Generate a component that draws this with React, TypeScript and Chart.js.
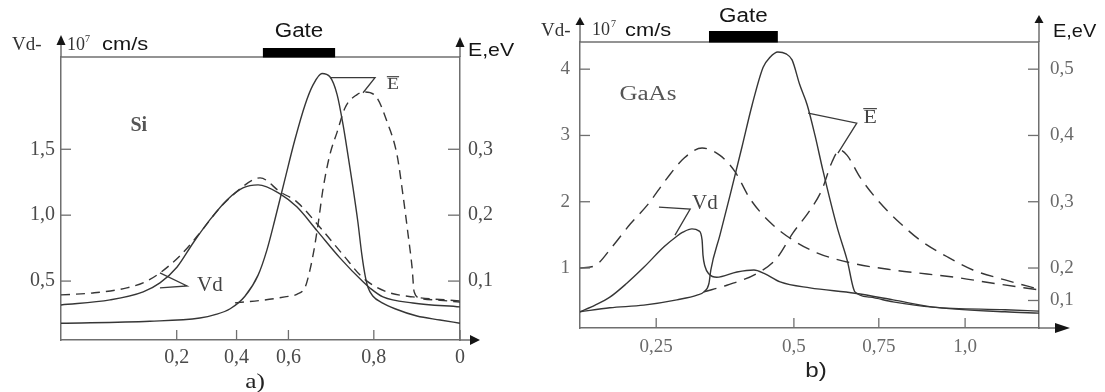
import React, { useEffect, useRef } from "react";
import { Chart, registerables } from "chart.js";

Chart.register(...registerables);

// ================= Panel a) Si =================
// x positions are given in the axis' own (normalised) coordinate, ticks carry the printed labels
const SI_X_TICKS = [0.29, 0.44, 0.57, 0.784, 1.0];
const SI_X_LABELS = ["0,2", "0,4", "0,6", "0,8", "0"];
const SI_VD_TICKS = [0.5, 1.0, 1.5];
const SI_VD_LABELS = ["0,5", "1,0", "1,5"];
const SI_E_TICKS = [0.1, 0.2, 0.3];
const SI_E_LABELS = ["0,1", "0,2", "0,3"];

// Vd, 10^7 cm/s (solid)
const SI_VD_SOLID_X = [0, 0.123, 0.206, 0.248, 0.291, 0.331, 0.373, 0.416, 0.456, 0.494, 0.549, 0.591, 0.642, 0.699, 0.757, 0.774, 0.807, 0.882, 1.0];
const SI_VD_SOLID_Y = [0.319, 0.357, 0.418, 0.486, 0.607, 0.789, 0.964, 1.116, 1.207, 1.23, 1.162, 1.063, 0.881, 0.676, 0.494, 0.448, 0.38, 0.334, 0.304];
// Vd (dashed)
const SI_VD_DASH_X = [0, 0.08, 0.165, 0.211, 0.248, 0.298, 0.348, 0.398, 0.449, 0.481, 0.499, 0.549, 0.591, 0.644, 0.707, 0.757, 0.817, 0.882, 1.0];
const SI_VD_DASH_Y = [0.395, 0.41, 0.448, 0.494, 0.562, 0.691, 0.865, 1.055, 1.2, 1.268, 1.283, 1.177, 1.101, 0.926, 0.699, 0.524, 0.418, 0.38, 0.349];
// E, eV (solid)
const SI_E_SOLID_X = [0, 0.223, 0.348, 0.386, 0.424, 0.461, 0.494, 0.516, 0.536, 0.561, 0.586, 0.612, 0.632, 0.654, 0.674, 0.692, 0.707, 0.719, 0.732, 0.744, 0.754, 0.762, 0.769, 0.782, 0.805, 0.837, 0.892, 0.95, 1.0];
const SI_E_SOLID_Y = [0.036, 0.039, 0.044, 0.049, 0.058, 0.077, 0.109, 0.147, 0.193, 0.254, 0.314, 0.368, 0.398, 0.415, 0.41, 0.383, 0.337, 0.292, 0.241, 0.19, 0.14, 0.109, 0.091, 0.077, 0.067, 0.058, 0.047, 0.041, 0.036];
// E, eV (dashed)
const SI_E_DASH_X = [0.436, 0.506, 0.561, 0.591, 0.612, 0.624, 0.634, 0.644, 0.657, 0.674, 0.692, 0.712, 0.742, 0.762, 0.792, 0.817, 0.842, 0.857, 0.87, 0.88, 0.885, 0.9, 0.95, 1.0];
const SI_E_DASH_Y = [0.067, 0.071, 0.076, 0.08, 0.091, 0.117, 0.147, 0.185, 0.241, 0.292, 0.326, 0.363, 0.383, 0.387, 0.378, 0.342, 0.292, 0.231, 0.17, 0.12, 0.084, 0.074, 0.071, 0.068];

const SI_GATE = [0.506, 0.687];
const SI_NAME_AT = [0.195, 1.68];
const SI_VD_NOTE_AT = [0.341, 0.463];
const SI_VD_LEADER_X = [0.248, 0.316, 0.248];
const SI_VD_LEADER_Y = [0.562, 0.463, 0.448];
const SI_E_NOTE_AT = [0.832, 1.99];
const SI_E_LEADER_X = [0.674, 0.787, 0.757];
const SI_E_LEADER_Y = [2.043, 2.043, 1.929];

// ================= Panel b) GaAs =================
const GA_X_TICKS = [0.166, 0.466, 0.651, 0.839];
const GA_X_LABELS = ["0,25", "0,5", "0,75", "1,0"];
const GA_VD_TICKS = [1, 2, 3, 4];
const GA_VD_LABELS = ["1", "2", "3", "4"];
const GA_E_TICKS = [0.151, 0.2, 0.3, 0.4, 0.5];
const GA_E_LABELS = ["0,1", "0,2", "0,3", "0,4", "0,5"];

const GA_VD_SOLID_X = [0, 0.033, 0.065, 0.102, 0.139, 0.183, 0.211, 0.224, 0.244, 0.259, 0.266, 0.268, 0.272, 0.281, 0.298, 0.342, 0.379, 0.401, 0.436, 0.501, 0.599, 0.682, 0.769, 0.926, 1.0];
const GA_VD_SOLID_Y = [0.34, 0.44, 0.56, 0.77, 1.01, 1.32, 1.48, 1.54, 1.59, 1.56, 1.42, 1.19, 1.03, 0.91, 0.86, 0.94, 0.97, 0.92, 0.79, 0.7, 0.62, 0.52, 0.41, 0.34, 0.32];
const GA_VD_DASH_X = [0, 0.031, 0.07, 0.109, 0.148, 0.187, 0.227, 0.266, 0.305, 0.338, 0.37, 0.414, 0.464, 0.516, 0.588, 0.682, 0.756, 0.828, 0.9, 1.0];
const GA_VD_DASH_Y = [1.0, 1.03, 1.32, 1.66, 1.96, 2.33, 2.66, 2.81, 2.7, 2.45, 2.05, 1.69, 1.42, 1.23, 1.08, 0.97, 0.91, 0.85, 0.77, 0.67];
const GA_E_SOLID_X = [0, 0.065, 0.139, 0.211, 0.255, 0.27, 0.281, 0.285, 0.305, 0.327, 0.353, 0.375, 0.399, 0.414, 0.431, 0.449, 0.462, 0.479, 0.495, 0.512, 0.529, 0.56, 0.582, 0.599, 0.632, 0.682, 0.769, 0.926, 1.0];
const GA_E_SOLID_Y = [0.134, 0.14, 0.144, 0.152, 0.159, 0.164, 0.177, 0.197, 0.25, 0.31, 0.383, 0.446, 0.503, 0.518, 0.526, 0.523, 0.514, 0.476, 0.446, 0.4, 0.348, 0.262, 0.212, 0.164, 0.156, 0.149, 0.141, 0.137, 0.135];
const GA_E_DASH_X = [0.27, 0.32, 0.386, 0.429, 0.464, 0.501, 0.527, 0.549, 0.566, 0.582, 0.61, 0.654, 0.697, 0.741, 0.8, 0.856, 0.926, 1.0];
const GA_E_DASH_Y = [0.164, 0.174, 0.192, 0.215, 0.253, 0.287, 0.318, 0.36, 0.378, 0.37, 0.337, 0.298, 0.268, 0.242, 0.217, 0.197, 0.182, 0.168];

const GA_GATE = [0.281, 0.431];
const GA_NAME_AT = [0.148, 3.62];
const GA_VD_NOTE_AT = [0.244, 1.98];
const GA_VD_LEADER_X = [0.172, 0.24, 0.207];
const GA_VD_LEADER_Y = [1.919, 1.889, 1.497];
const GA_E_NOTE_AT = [0.632, 3.27];
const GA_E_LEADER_X = [0.497, 0.603, 0.562];
const GA_E_LEADER_Y = [3.336, 3.185, 2.733];

// ================= styling =================
const SERIF = "'Liberation Serif', 'Times New Roman', 'DejaVu Serif', serif";
const SANS = "'Liberation Sans', Arial, 'DejaVu Sans', sans-serif";
const AXIS = "#6f6f6f";
const LINE = "#363636";
const INK = "#151515";

function pts(xs: number[], ys: number[]) {
  return xs.map((x, i) => ({ x, y: ys[i] }));
}

function ds(xs: number[], ys: number[], axis: string, dash: number[]) {
  return {
    data: pts(xs, ys),
    yAxisID: axis,
    borderColor: LINE,
    borderWidth: 1.4,
    borderDash: dash,
    pointRadius: 0,
    fill: false,
    cubicInterpolationMode: "monotone",
  };
}

function labelOf(v: number, ticks: number[], labels: string[]) {
  const i = ticks.findIndex((t) => Math.abs(t - v) < 1e-6);
  return i >= 0 ? labels[i] : "";
}

function seg(ctx: CanvasRenderingContext2D, x1: number, y1: number, x2: number, y2: number) {
  ctx.beginPath();
  ctx.moveTo(x1, y1);
  ctx.lineTo(x2, y2);
  ctx.stroke();
}

function tri(ctx: CanvasRenderingContext2D, a: number[], b: number[], c: number[]) {
  ctx.beginPath();
  ctx.moveTo(a[0], a[1]);
  ctx.lineTo(b[0], b[1]);
  ctx.lineTo(c[0], c[1]);
  ctx.closePath();
  ctx.fill();
}

function txt(
  ctx: CanvasRenderingContext2D,
  s: string,
  x: number,
  y: number,
  font: string,
  color: string,
  align: CanvasTextAlign = "left",
  baseline: CanvasTextBaseline = "alphabetic",
  stretch = 1
) {
  ctx.save();
  ctx.font = font;
  ctx.fillStyle = color;
  ctx.textAlign = align;
  ctx.textBaseline = baseline;
  ctx.translate(x, y);
  ctx.scale(stretch, 1);
  ctx.fillText(s, 0, 0);
  ctx.restore();
}

function overE(ctx: CanvasRenderingContext2D, x: number, y: number, size: number, color: string) {
  txt(ctx, "E", x, y, `${size}px ${SERIF}`, color, "center", "middle", 1.15);
  ctx.save();
  ctx.strokeStyle = color;
  ctx.lineWidth = 1.2;
  const w = size * 0.36;
  const oy = y - size * 0.47;
  seg(ctx, x - w, oy, x + w, oy);
  ctx.restore();
}

type FrameCfg = {
  leftTip: number; leftBase: number; rightTip: number; rightBase: number;
  xBase: number; xTip: number; tick: number; rTick: number;
};

function drawFrame(chart: any, f: FrameCfg) {
  const ctx: CanvasRenderingContext2D = chart.ctx;
  const { left, right, top, bottom } = chart.chartArea;
  ctx.save();
  ctx.strokeStyle = AXIS;
  ctx.lineWidth = 1.5;
  seg(ctx, left, top, right, top);
  seg(ctx, left, top, left, top - f.leftBase);
  seg(ctx, right, top, right, top - f.rightBase);
  seg(ctx, right, bottom, right + f.xBase, bottom);
  ctx.fillStyle = INK;
  tri(ctx, [left, top - f.leftTip], [left - 4.5, top - f.leftBase], [left + 4.5, top - f.leftBase]);
  tri(ctx, [right, top - f.rightTip], [right - 4.5, top - f.rightBase], [right + 4.5, top - f.rightBase]);
  tri(ctx, [right + f.xTip, bottom], [right + f.xBase, bottom - 5], [right + f.xBase, bottom + 5]);
  ctx.lineWidth = 1.3;
  const Y = chart.scales.y, Y2 = chart.scales.y2, X = chart.scales.x;
  for (const t of Y.ticks) {
    const py = Y.getPixelForValue(t.value);
    seg(ctx, left, py, left + f.tick, py);
  }
  for (const t of Y2.ticks) {
    const py = Y2.getPixelForValue(t.value);
    seg(ctx, right - f.rTick, py, right, py);
  }
  for (const t of X.ticks) {
    const px = X.getPixelForValue(t.value);
    seg(ctx, px, bottom, px, bottom - f.tick);
  }
  ctx.restore();
}

function leader(chart: any, xs: number[], ys: number[]) {
  const ctx: CanvasRenderingContext2D = chart.ctx;
  const X = chart.scales.x, Y = chart.scales.y;
  ctx.save();
  ctx.strokeStyle = "#3a3a3a";
  ctx.lineWidth = 1.3;
  ctx.beginPath();
  xs.forEach((u, i) => {
    const px = X.getPixelForValue(u), py = Y.getPixelForValue(ys[i]);
    if (i === 0) ctx.moveTo(px, py);
    else ctx.lineTo(px, py);
  });
  ctx.stroke();
  ctx.restore();
}

function gate(chart: any, g: number[], h: number, textDy: number) {
  const ctx: CanvasRenderingContext2D = chart.ctx;
  const X = chart.scales.x;
  const top = chart.chartArea.top;
  const x0 = X.getPixelForValue(g[0]), x1 = X.getPixelForValue(g[1]);
  ctx.save();
  ctx.fillStyle = "#000";
  ctx.fillRect(x0, top - h, x1 - x0, h + 0.5);
  ctx.restore();
  txt(ctx, "Gate", (x0 + x1) / 2, top - textDy, `20px ${SANS}`, INK, "center", "alphabetic", 1.12);
}

function decorSi(chart: any) {
  const ctx: CanvasRenderingContext2D = chart.ctx;
  const a = chart.chartArea;
  const X = chart.scales.x, Y = chart.scales.y;
  const P = (p: number[]) => [X.getPixelForValue(p[0]), Y.getPixelForValue(p[1])];
  drawFrame(chart, { leftTip: 22, leftBase: 12, rightTip: 20, rightBase: 10, xBase: 10, xTip: 20, tick: 10, rTick: 12 });
  gate(chart, SI_GATE, 9, 20);
  // axis captions
  txt(ctx, "Vd-", a.left - 49, a.top - 7, `19px ${SERIF}`, "#333");
  txt(ctx, "10", a.left + 6, a.top - 7, `18px ${SERIF}`, "#333");
  txt(ctx, "7", a.left + 24, a.top - 15, `10px ${SERIF}`, "#333");
  txt(ctx, "cm/s", a.left + 41, a.top - 7, `19px ${SANS}`, INK, "left", "alphabetic", 1.15);
  txt(ctx, "E,eV", a.right + 8, a.top - 1, `19px ${SANS}`, INK, "left", "alphabetic", 1.12);
  // panel name and curve notes
  const n = P(SI_NAME_AT);
  txt(ctx, "Si", n[0], n[1], `bold 20px ${SERIF}`, "#555", "center", "middle");
  leader(chart, SI_VD_LEADER_X, SI_VD_LEADER_Y);
  const v = P(SI_VD_NOTE_AT);
  txt(ctx, "Vd", v[0], v[1], `21px ${SERIF}`, "#444", "left", "middle");
  leader(chart, SI_E_LEADER_X, SI_E_LEADER_Y);
  const e = P(SI_E_NOTE_AT);
  overE(ctx, e[0], e[1], 17, "#444");
  txt(ctx, "a)", 255, 388, `22px ${SERIF}`, "#222", "center", "alphabetic", 1.15);
}

function decorGa(chart: any) {
  const ctx: CanvasRenderingContext2D = chart.ctx;
  const a = chart.chartArea;
  const X = chart.scales.x, Y = chart.scales.y;
  const P = (p: number[]) => [X.getPixelForValue(p[0]), Y.getPixelForValue(p[1])];
  drawFrame(chart, { leftTip: 25, leftBase: 17, rightTip: 27, rightBase: 19, xBase: 16, xTip: 31, tick: 10, rTick: 11 });
  gate(chart, GA_GATE, 11, 20);
  txt(ctx, "Vd-", a.left - 39, a.top - 6, `19px ${SERIF}`, "#333");
  txt(ctx, "10", a.left + 12, a.top - 7, `18px ${SERIF}`, "#333");
  txt(ctx, "7", a.left + 31, a.top - 15, `10px ${SERIF}`, "#333");
  txt(ctx, "cm/s", a.left + 45, a.top - 6, `19px ${SANS}`, INK, "left", "alphabetic", 1.15);
  txt(ctx, "E,eV", a.right + 14, a.top - 5, `19px ${SANS}`, INK, "left", "alphabetic", 1.05);
  const n = P(GA_NAME_AT);
  txt(ctx, "GaAs", n[0], n[1], `20px ${SERIF}`, "#555", "center", "middle", 1.25);
  leader(chart, GA_VD_LEADER_X, GA_VD_LEADER_Y);
  const v = P(GA_VD_NOTE_AT);
  txt(ctx, "Vd", v[0], v[1], `21px ${SERIF}`, "#444", "left", "middle");
  leader(chart, GA_E_LEADER_X, GA_E_LEADER_Y);
  const e = P(GA_E_NOTE_AT);
  overE(ctx, e[0], e[1], 19, "#444");
  txt(ctx, "b)", 276, 377, `21px ${SANS}`, "#222", "center", "alphabetic", 1.15);
}

type Panel = {
  datasets: any[];
  xTicks: number[]; xLabels: string[];
  yTicks: number[]; yLabels: string[]; yMin: number; yMax: number;
  y2Ticks: number[]; y2Labels: string[]; y2Min: number; y2Max: number;
  padding: { left: number; right: number; top: number; bottom: number };
  yW: number; y2W: number; xH: number;
  tickSize: number; tickColor: string;
  xPad: number; yPad: number; y2Pad: number;
  decor: (c: any) => void;
};

const PANEL_SI: Panel = {
  datasets: [
    ds(SI_VD_SOLID_X, SI_VD_SOLID_Y, "y", []),
    ds(SI_VD_DASH_X, SI_VD_DASH_Y, "y", [9, 6]),
    ds(SI_E_SOLID_X, SI_E_SOLID_Y, "y2", []),
    ds(SI_E_DASH_X, SI_E_DASH_Y, "y2", [9, 6]),
  ],
  xTicks: SI_X_TICKS, xLabels: SI_X_LABELS,
  yTicks: SI_VD_TICKS, yLabels: SI_VD_LABELS, yMin: 0.053, yMax: 2.2,
  y2Ticks: SI_E_TICKS, y2Labels: SI_E_LABELS, y2Min: 0.0106, y2Max: 0.44,
  padding: { left: 0, right: 40, top: 57, bottom: 22 },
  yW: 61, y2W: 40, xH: 30,
  tickSize: 20, tickColor: "#4a4a4a",
  xPad: 6, yPad: 6, y2Pad: 8,
  decor: decorSi,
};

const PANEL_GA: Panel = {
  datasets: [
    ds(GA_VD_SOLID_X, GA_VD_SOLID_Y, "y", []),
    ds(GA_VD_DASH_X, GA_VD_DASH_Y, "y", [13, 8]),
    ds(GA_E_SOLID_X, GA_E_SOLID_Y, "y2", []),
    ds(GA_E_DASH_X, GA_E_DASH_Y, "y2", [13, 8]),
  ],
  xTicks: GA_X_TICKS, xLabels: GA_X_LABELS,
  yTicks: GA_VD_TICKS, yLabels: GA_VD_LABELS, yMin: 0.095, yMax: 4.41,
  y2Ticks: GA_E_TICKS, y2Labels: GA_E_LABELS, y2Min: 0.1095, y2Max: 0.541,
  padding: { left: 0, right: 26, top: 42, bottom: 30 },
  yW: 40, y2W: 40, xH: 34,
  tickSize: 19, tickColor: "#6a6a6a",
  xPad: 8, yPad: 10, y2Pad: 11,
  decor: decorGa,
};

function axisStyle() {
  return {
    grid: { display: false, drawTicks: false },
    border: { display: true, color: AXIS, width: 1.5 },
  };
}

function buildConfig(p: Panel): any {
  const font = { family: SERIF, size: p.tickSize };
  return {
    type: "line",
    data: { datasets: p.datasets },
    options: {
      responsive: false,
      animation: false,
      layout: { padding: p.padding },
      plugins: { legend: { display: false }, tooltip: { enabled: false } },
      scales: {
        x: {
          type: "linear",
          position: "bottom",
          min: 0,
          max: 1,
          ...axisStyle(),
          afterBuildTicks: (s: any) => {
            s.ticks = p.xTicks.map((v) => ({ value: v }));
          },
          afterFit: (s: any) => {
            s.height = p.xH;
          },
          ticks: {
            autoSkip: false,
            maxRotation: 0,
            padding: p.xPad,
            font,
            color: p.tickColor,
            callback: (v: number) => labelOf(v, p.xTicks, p.xLabels),
          },
        },
        y: {
          type: "linear",
          position: "left",
          min: p.yMin,
          max: p.yMax,
          ...axisStyle(),
          afterBuildTicks: (s: any) => {
            s.ticks = p.yTicks.map((v) => ({ value: v }));
          },
          afterFit: (s: any) => {
            s.width = p.yW;
          },
          ticks: {
            autoSkip: false,
            padding: p.yPad,
            font,
            color: p.tickColor,
            callback: (v: number) => labelOf(v, p.yTicks, p.yLabels),
          },
        },
        y2: {
          type: "linear",
          position: "right",
          min: p.y2Min,
          max: p.y2Max,
          ...axisStyle(),
          afterBuildTicks: (s: any) => {
            s.ticks = p.y2Ticks.map((v) => ({ value: v }));
          },
          afterFit: (s: any) => {
            s.width = p.y2W;
          },
          ticks: {
            autoSkip: false,
            padding: p.y2Pad,
            font,
            color: p.tickColor,
            callback: (v: number) => labelOf(v, p.y2Ticks, p.y2Labels),
          },
        },
      },
    },
    plugins: [{ id: "decor", afterDraw: (chart: any) => p.decor(chart) }],
  };
}

export default function App() {
  const refA = useRef<HTMLCanvasElement>(null);
  const refB = useRef<HTMLCanvasElement>(null);
  useEffect(() => {
    const ca = new Chart(refA.current as HTMLCanvasElement, buildConfig(PANEL_SI));
    const cb = new Chart(refB.current as HTMLCanvasElement, buildConfig(PANEL_GA));
    return () => {
      ca.destroy();
      cb.destroy();
    };
  }, []);
  return (
    <div style={{ position: "absolute", left: 0, top: 0, width: 1105, height: 392, background: "#fff", overflow: "hidden" }}>
      <canvas ref={refA} width={540} height={392} style={{ position: "absolute", left: 0, top: 0, width: 540, height: 392 }} />
      <canvas ref={refB} width={565} height={392} style={{ position: "absolute", left: 540, top: 0, width: 565, height: 392 }} />
    </div>
  );
}
